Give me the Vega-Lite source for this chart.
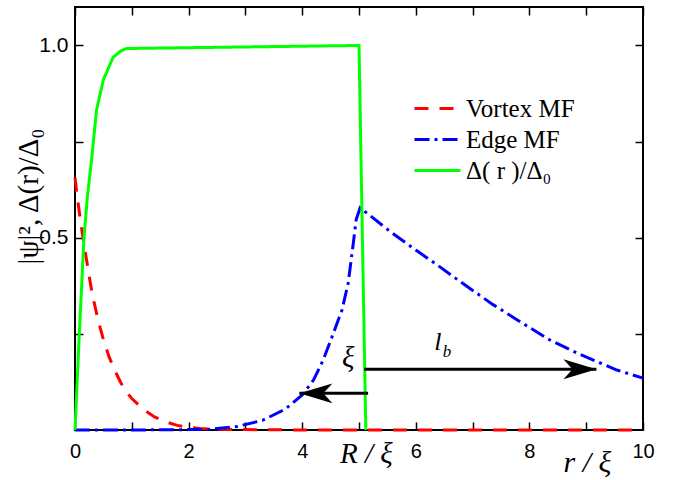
{
  "$schema": "https://vega.github.io/schema/vega-lite/v6.json",
  "width": 568,
  "height": 423,
  "autosize": {"type": "none"},
  "padding": {"left": 75, "top": 7, "right": 31, "bottom": 50},
  "background": "white",
  "config": {
    "view": {"stroke": "black", "strokeWidth": 2},
    "axis": {
      "domain": false,
      "grid": false,
      "tickColor": "black",
      "tickWidth": 1.5,
      "tickSize": -8,
      "labelColor": "black",
      "labelFont": "Liberation Sans",
      "labelFontSize": 20,
      "labelFlush": false,
      "labelOverlap": false,
      "titleColor": "black"
    },
    "legend": {
      "orient": "none",
      "legendX": 350,
      "legendY": 89,
      "padding": 0,
      "symbolType": "M-2.3,0 L2.3,0",
      "symbolSize": 400,
      "symbolStrokeWidth": 3,
      "labelFont": "Liberation Serif",
      "labelFontSize": 25,
      "labelColor": "black",
      "labelOffset": 16,
      "rowPadding": 5
    }
  },
  "datasets": {
    "curves": [
      {"s": "Vortex MF", "r": 0, "v": 0.656},
      {"s": "Vortex MF", "r": 0.05, "v": 0.595},
      {"s": "Vortex MF", "r": 0.1, "v": 0.54},
      {"s": "Vortex MF", "r": 0.15, "v": 0.492},
      {"s": "Vortex MF", "r": 0.2, "v": 0.445},
      {"s": "Vortex MF", "r": 0.3, "v": 0.356},
      {"s": "Vortex MF", "r": 0.4, "v": 0.29},
      {"s": "Vortex MF", "r": 0.5, "v": 0.235},
      {"s": "Vortex MF", "r": 0.6, "v": 0.19},
      {"s": "Vortex MF", "r": 0.7, "v": 0.155},
      {"s": "Vortex MF", "r": 0.8, "v": 0.125},
      {"s": "Vortex MF", "r": 0.9, "v": 0.1},
      {"s": "Vortex MF", "r": 1.0, "v": 0.082},
      {"s": "Vortex MF", "r": 1.2, "v": 0.054},
      {"s": "Vortex MF", "r": 1.4, "v": 0.034},
      {"s": "Vortex MF", "r": 1.6, "v": 0.021},
      {"s": "Vortex MF", "r": 1.8, "v": 0.012},
      {"s": "Vortex MF", "r": 2.0, "v": 0.007},
      {"s": "Vortex MF", "r": 2.2, "v": 0.004},
      {"s": "Vortex MF", "r": 2.5, "v": 0.002},
      {"s": "Vortex MF", "r": 3.0, "v": 0.001},
      {"s": "Vortex MF", "r": 4.0, "v": 0},
      {"s": "Vortex MF", "r": 10, "v": 0},
      {"s": "Edge MF", "r": 0, "v": 0},
      {"s": "Edge MF", "r": 1.0, "v": 0},
      {"s": "Edge MF", "r": 2.0, "v": 0.001},
      {"s": "Edge MF", "r": 2.4, "v": 0.002},
      {"s": "Edge MF", "r": 2.85, "v": 0.009},
      {"s": "Edge MF", "r": 3.3, "v": 0.025},
      {"s": "Edge MF", "r": 3.7, "v": 0.054},
      {"s": "Edge MF", "r": 4.0, "v": 0.091},
      {"s": "Edge MF", "r": 4.2, "v": 0.13},
      {"s": "Edge MF", "r": 4.37, "v": 0.182},
      {"s": "Edge MF", "r": 4.55, "v": 0.252},
      {"s": "Edge MF", "r": 4.7, "v": 0.312},
      {"s": "Edge MF", "r": 4.81, "v": 0.382},
      {"s": "Edge MF", "r": 4.9, "v": 0.486},
      {"s": "Edge MF", "r": 4.95, "v": 0.547},
      {"s": "Edge MF", "r": 5.02, "v": 0.578},
      {"s": "Edge MF", "r": 5.55, "v": 0.516},
      {"s": "Edge MF", "r": 6.0, "v": 0.468},
      {"s": "Edge MF", "r": 6.37, "v": 0.43},
      {"s": "Edge MF", "r": 6.8, "v": 0.384},
      {"s": "Edge MF", "r": 7.36, "v": 0.326},
      {"s": "Edge MF", "r": 7.8, "v": 0.285},
      {"s": "Edge MF", "r": 8.36, "v": 0.234},
      {"s": "Edge MF", "r": 8.9, "v": 0.196},
      {"s": "Edge MF", "r": 9.54, "v": 0.156},
      {"s": "Edge MF", "r": 10, "v": 0.135},
      {"s": "Δ( r )/Δ₀", "r": 0, "v": 0},
      {"s": "Δ( r )/Δ₀", "r": 0.076, "v": 0.25},
      {"s": "Δ( r )/Δ₀", "r": 0.158, "v": 0.5},
      {"s": "Δ( r )/Δ₀", "r": 0.22, "v": 0.61},
      {"s": "Δ( r )/Δ₀", "r": 0.29, "v": 0.7},
      {"s": "Δ( r )/Δ₀", "r": 0.38, "v": 0.833},
      {"s": "Δ( r )/Δ₀", "r": 0.5, "v": 0.911},
      {"s": "Δ( r )/Δ₀", "r": 0.67, "v": 0.969},
      {"s": "Δ( r )/Δ₀", "r": 0.8, "v": 0.985},
      {"s": "Δ( r )/Δ₀", "r": 0.9, "v": 0.992},
      {"s": "Δ( r )/Δ₀", "r": 5.0, "v": 1.0},
      {"s": "Δ( r )/Δ₀", "r": 5.12, "v": 0}
    ],
    "arrows": [
      {"dir": "right", "from": 5.09, "to": 9.18, "y": 0.158},
      {"dir": "left", "from": 5.16, "to": 3.95, "y": 0.0955}
    ]
  },
  "resolve": {"axis": {"x": "independent", "y": "independent"}},
  "layer": [
    {
      "data": {"name": "curves"},
      "mark": {"type": "line", "strokeWidth": 3, "strokeCap": "butt"},
      "encoding": {
        "x": {
          "field": "r", "type": "quantitative",
          "scale": {"domain": [0, 10], "nice": false, "zero": false},
          "axis": {
            "orient": "bottom",
            "values": [0, 1, 2, 3, 4, 5, 6, 7, 8, 9, 10],
            "labelExpr": "datum.value % 2 == 0 ? datum.label : ''",
            "labelPadding": 19,
            "title": "r / ξ",
            "titleFont": "Liberation Serif",
            "titleFontStyle": "italic",
            "titleFontWeight": "normal",
            "titleFontSize": 30,
            "titleX": 512,
            "titleY": 41,
            "titleBaseline": "alphabetic",
            "titleAlign": "center"
          }
        },
        "y": {
          "field": "v", "type": "quantitative",
          "scale": {"domain": [0, 1.1], "nice": false, "zero": false},
          "axis": {
            "orient": "left",
            "values": [0.25, 0.5, 0.75, 1.0],
            "labelExpr": "datum.value == 0.5 || datum.value == 1 ? format(datum.value, '.1f') : ''",
            "labelFontSize": 21,
            "labelPadding": 15,
            "title": "|ψ|²,  Δ(r)/Δ₀",
            "titleFont": "Liberation Serif",
            "titleFontSize": 29,
            "titleFontWeight": "normal",
            "titleX": -47,
            "titleY": 189,
            "titleAngle": -90,
            "titleBaseline": "middle",
            "titleAlign": "center"
          }
        },
        "color": {
          "field": "s", "type": "nominal",
          "scale": {"domain": ["Vortex MF", "Edge MF", "Δ( r )/Δ₀"], "range": ["#ff0000", "#0000ff", "#00ff00"]},
          "legend": {"title": null}
        },
        "strokeDash": {
          "field": "s", "type": "nominal",
          "scale": {"domain": ["Vortex MF", "Edge MF", "Δ( r )/Δ₀"], "range": [[14, 11], [15, 5, 3, 5], [1, 0]]},
          "legend": {"title": null}
        },
        "order": {"field": "r", "type": "quantitative"}
      }
    },
    {
      "data": {"name": "arrows"},
      "mark": {"type": "rule", "color": "black", "strokeWidth": 3},
      "encoding": {
        "x": {
          "field": "from", "type": "quantitative",
          "scale": {"domain": [0, 10], "nice": false, "zero": false},
          "axis": {"orient": "top", "values": [0, 1, 2, 3, 4, 5, 6, 7, 8, 9, 10], "labels": false, "title": null}
        },
        "x2": {"field": "to"},
        "y": {
          "field": "y", "type": "quantitative",
          "scale": {"domain": [0, 1.1], "nice": false, "zero": false},
          "axis": {"orient": "right", "values": [0.25, 0.5, 0.75, 1.0], "labels": false, "title": null}
        }
      }
    },
    {
      "data": {"name": "arrows"},
      "transform": [{"filter": "datum.dir == 'right'"}],
      "mark": {"type": "point", "filled": true, "opacity": 1, "color": "black", "strokeWidth": 0, "size": 1089, "shape": "M0,0 L-2,-0.6 L-1.45,0 L-2,0.6 Z"},
      "encoding": {
        "x": {"field": "to", "type": "quantitative", "scale": {"domain": [0, 10], "nice": false, "zero": false}, "axis": null},
        "y": {"field": "y", "type": "quantitative", "scale": {"domain": [0, 1.1], "nice": false, "zero": false}, "axis": null}
      }
    },
    {
      "data": {"name": "arrows"},
      "transform": [{"filter": "datum.dir == 'left'"}],
      "mark": {"type": "point", "filled": true, "opacity": 1, "color": "black", "strokeWidth": 0, "size": 1089, "shape": "M0,0 L2,-0.6 L1.45,0 L2,0.6 Z"},
      "encoding": {
        "x": {"field": "to", "type": "quantitative", "scale": {"domain": [0, 10], "nice": false, "zero": false}, "axis": null},
        "y": {"field": "y", "type": "quantitative", "scale": {"domain": [0, 1.1], "nice": false, "zero": false}, "axis": null}
      }
    },
    {
      "data": {"values": [{"t": "ξ", "x": 4.81, "y": 0.164}, {"t": "R / ξ", "x": 5.13, "y": -0.0867}]},
      "mark": {"type": "text", "font": "Liberation Serif", "fontStyle": "italic", "fontSize": 29, "color": "black", "baseline": "alphabetic", "align": "center"},
      "encoding": {
        "x": {"field": "x", "type": "quantitative", "scale": {"domain": [0, 10], "nice": false, "zero": false}, "axis": null},
        "y": {"field": "y", "type": "quantitative", "scale": {"domain": [0, 1.1], "nice": false, "zero": false}, "axis": null},
        "text": {"field": "t"}
      }
    },
    {
      "data": {"values": [{"t": "l", "x": 6.39, "y": 0.208}]},
      "mark": {"type": "text", "font": "Liberation Serif", "fontStyle": "italic", "fontSize": 26, "color": "black", "baseline": "alphabetic", "align": "center"},
      "encoding": {
        "x": {"field": "x", "type": "quantitative", "scale": {"domain": [0, 10], "nice": false, "zero": false}, "axis": null},
        "y": {"field": "y", "type": "quantitative", "scale": {"domain": [0, 1.1], "nice": false, "zero": false}, "axis": null},
        "text": {"field": "t"}
      }
    },
    {
      "data": {"values": [{"t": "b", "x": 6.55, "y": 0.191}]},
      "mark": {"type": "text", "font": "Liberation Serif", "fontStyle": "italic", "fontSize": 17, "color": "black", "baseline": "alphabetic", "align": "center"},
      "encoding": {
        "x": {"field": "x", "type": "quantitative", "scale": {"domain": [0, 10], "nice": false, "zero": false}, "axis": null},
        "y": {"field": "y", "type": "quantitative", "scale": {"domain": [0, 1.1], "nice": false, "zero": false}, "axis": null},
        "text": {"field": "t"}
      }
    }
  ]
}
